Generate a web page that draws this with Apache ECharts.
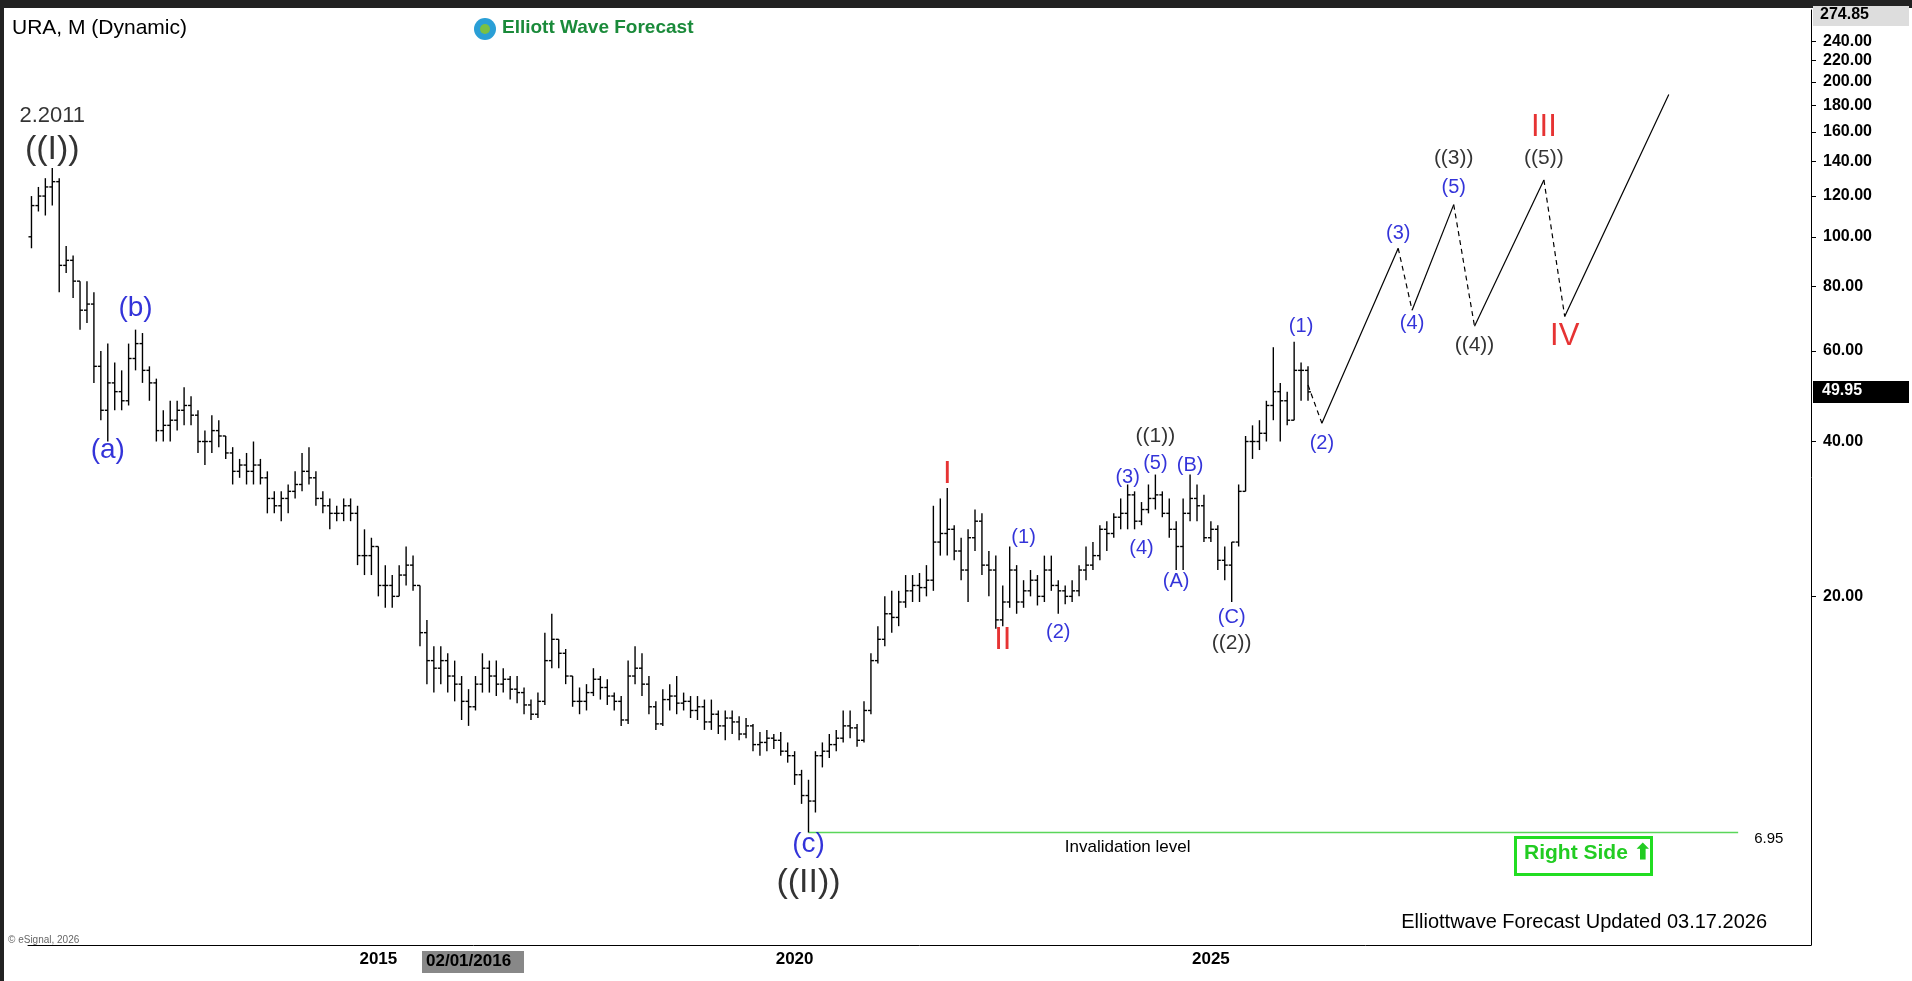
<!DOCTYPE html>
<html><head><meta charset="utf-8">
<script src="https://cdn.jsdelivr.net/npm/echarts@6/dist/echarts.min.js"></script>
<style>html,body{margin:0;padding:0;background:#fff}#c{width:1912px;height:981px}</style>
</head><body><div id="c"></div>
<script>
// ---- DATA ----
const startYear = 2010, startMonth = 11, endYear = 2032, endMonth = 3;
const ticker = 'URA, M (Dynamic)';
const yTicks = [20,40,60,80,100,120,140,160,180,200,220,240];
const topPrice = 274.85, lastPrice = 49.95, invalidation = 6.95;
const xTickLabels = {'2015-01':'2015','2020-01':'2020','2025-01':'2025'};
const highlightLabel = '02/01/2016';
// monthly [open, close, low, high] from 2010-11
const bars2010 = [[100,115,95,120],[115,120,112,125]];
const bars2011 = [[120,125,110,130],[125,128,115,136],[128,88,78,130],[88,90,85,96],[90,82,76,92],[82,72,66,82],[72,74,68,82],[74,56,52,78],[56,46,44,60],[46,52,40,62],[52,50,46,57],[50,48,46,55]];
const bars2012 = [[48,58,47,62],[58,62,55,66],[62,55,52,65],[55,52,48,56],[52,42,40,53],[42,43,40,46],[43,44,40,48],[44,46,42,48],[46,47,43,51],[47,45,43,49],[45,40,38,46],[40,40,36,42]];
const bars2013 = [[40,42,38,45],[42,41,39,44],[41,38,37,41],[38,35,33,39],[35,36,34,37],[36,35,33,38],[35,36,33,40],[36,34,33,37],[34,31,29,35],[31,30,29,32],[30,31,28,32],[31,32,29,33]];
const bars2014 = [[32,33,31,35],[33,35,32,38],[35,34,33,39],[34,31,30,35],[31,30,29,32],[30,29,27,31],[29,29,28,30],[29,30,28,31],[30,29,28,31],[29,24,23,30],[24,24,22,27],[24,25,22,26]];
const bars2015 = [[25,21,20,25],[21,21,19,23],[21,20,19,22],[20,22,20,23],[22,23,21,25],[23,21,20.5,24],[21,17,16,21],[17,15,13.5,18],[15,14.5,13,16],[14.5,15,13.5,16],[15,14,13,15.5],[14,13.5,12.5,15]];
const bars2016 = [[13.5,12.5,11.5,14],[12.5,12.2,11.2,13.2],[12.2,13.5,12,14],[13.5,14.5,13,15.5],[14.5,14,13,15],[14,13.5,12.8,15],[13.5,13.8,13,14.5],[13.8,13.2,12.6,14],[13.2,13,12.4,14],[13,12.3,11.8,13.3],[12.3,11.8,11.5,12.6],[11.8,12.5,11.6,13]];
const bars2017 = [[12.5,15,12.3,17],[15,16.5,14.5,18.5],[16.5,15.5,14.5,16.5],[15.5,14,13.5,15.8],[14,12.5,12.2,14],[12.5,12.5,11.8,13.3],[12.5,13,12,13.5],[13,13.8,12.8,14.5],[13.8,13.3,12.6,14],[13.3,12.8,12.3,13.8],[12.8,12.5,12,13],[12.5,11.5,11.2,12.8]];
const bars2018 = [[11.5,14,11.3,15],[14,14.5,13.5,16],[14.5,13.5,12.8,15.5],[13.5,12.2,11.8,14],[12.2,11.3,11,12.5],[11.3,12.6,11.2,13.2],[12.6,12.8,12,13.5],[12.8,12.4,11.8,14],[12.4,12.5,12,13],[12.5,12,11.6,12.8],[12,12.2,11.5,12.8],[12.2,11.4,11,12.6]];
const bars2019 = [[11.4,11.8,11,12.6],[11.8,11.2,10.8,12],[11.2,11.6,10.5,12],[11.6,11.4,10.8,12],[11.4,10.8,10.5,11.7],[10.8,11.2,10.6,11.6],[11.2,10.3,10,11.3],[10.3,10.4,9.8,10.9],[10.4,10.6,10,11],[10.6,10.5,10.1,10.8],[10.5,10,9.8,10.9],[10,9.8,9.5,10.4]];
const bars2020 = [[9.8,9,8.6,10],[9,8.2,7.9,9.2],[8.2,8,6.95,8.8],[8,9.8,7.6,10],[9.8,10,9.3,10.4],[10,10.3,9.7,10.8],[10.3,10.6,10,11],[10.6,11.2,10.4,12],[11.2,11.1,10.6,12],[11.1,10.5,10.2,11.3],[10.5,12,10.4,12.5],[12,15,11.8,15.5]];
const bars2021 = [[15,16.5,14.8,17.5],[16.5,18.5,16,20],[18.5,18.2,17,20.5],[18.2,19.5,17.5,20.5],[19.5,20.5,19,22],[20.5,21,19.5,22],[21,20.8,19.5,22.2],[20.8,21.5,20,23],[21.5,25.5,20.5,30],[25.5,26.5,24,31],[26.5,27,24,32.5],[27,24.5,23.5,27.5]];
const bars2022 = [[24.5,22.5,21.5,26],[22.5,26,19.5,27],[26,28,24.5,29.5],[28,23,22,29],[23,22.5,20,24.5],[22.5,18,17.3,24],[18,19.5,17.5,21],[19.5,22.5,19,25],[22.5,19.5,18.5,23],[19.5,20.5,19,21.5],[20.5,21.5,20,22.5],[21.5,20,19.2,22]];
const bars2023 = [[20,22.5,19.5,24],[22.5,21,20.5,24],[21,20.5,18.5,21.5],[20.5,20,19.3,21],[20,20.5,19.5,21.5],[20.5,22.5,20,23],[22.5,23,21.5,25],[23,24,22.5,25.5],[24,27,23.5,27.5],[27,26.5,24.5,28],[26.5,28.5,26,29],[28.5,29,27,31]];
const bars2024 = [[29,31.5,27,33],[31.5,28,27,32],[28,29.5,27.5,30.5],[29.5,31,29,33],[31,31.5,29.5,34.5],[31.5,29,28.5,32],[29,27,26,31],[27,25,22.5,28],[25,29,22.5,31],[29,31,28,34.5],[31,30,28,33],[30,26,25.5,31.5]];
const bars2025 = [[26,27,25.5,28],[27,23.5,22.5,27.5],[23.5,23,21.5,25],[23,25.5,19.5,25.5],[25.5,32,25,33],[32,40,32,41],[40,40,37,43],[40,41.5,38.5,44],[41.5,47,40,48],[47,50,44,61],[50,48,40,52],[48,44,43,50]];
const bars2026 = [[44,55,44,62.5],[55,55,48,57],[55,49.95,48,56]];
// projected path
const pathMonths = ['2026-03','2026-05','2027-04','2027-06','2027-12','2028-03','2029-01','2029-04','2030-07'];
const pathPrices = [51.5,43.4,95,72,115.5,67,129,70,189];
const pathTypes  = ['dashed','solid','dashed','solid','dashed','solid','dashed','solid'];
// wave labels
const waveMonths = ['2011-02','2011-02','2012-02','2011-10','2021-11','2022-07','2022-10','2023-03','2024-01','2024-03','2024-05','2024-05','2024-10','2024-08','2025-04','2025-04','2026-02','2026-05','2027-04','2027-06','2027-12','2027-12','2028-03','2029-01','2029-01','2029-04','2020-03','2020-03'];
const wavePrices = [172,148,72.6,38.5,34.5,16.4,26,17,34,24.8,36.3,41,36,21.4,18.2,16.2,67,39.6,101.6,67.7,124.5,142,61.6,142,163,64,6.6,5.55];
const waveTexts  = ['2.2011','((I))','(b)','(a)','I','II','(1)','(2)','(3)','(4)','(5)','((1))','(B)','(A)','(C)','((2))','(1)','(2)','(3)','(4)','(5)','((3))','((4))','((5))','III','IV','(c)','((II))'];
const waveKinds  = ['date','big','blueBig','blueBig','red','red','blue','blue','blue','blue','blue','black','blue','blue','blue','black','blue','blue','blue','blue','blue','black','black','black','red','red','blueBig','big'];
const invalidStart = '2020-03', invalidEnd = '2031-05';

// ---- BUILD ----
const months = [];
for (let y = startYear, m = startMonth; y < endYear || (y === endYear && m <= endMonth); ) {
  months.push(y + '-' + String(m).padStart(2,'0'));
  m++; if (m > 12) { m = 1; y++; }
}
const bars = [].concat(bars2010,bars2011,bars2012,bars2013,bars2014,bars2015,bars2016,bars2017,bars2018,bars2019,bars2020,bars2021,bars2022,bars2023,bars2024,bars2025,bars2026);
const ohlcData = bars.map((b,i)=>[i,b[0],b[1],b[2],b[3]]);

const F = 'Liberation Sans, Arial, sans-serif';
const chart = echarts.init(document.getElementById('c'));
const series = [];
series.push({
  type:'custom', data: ohlcData, encode:{x:0,y:[1,2,3,4]}, z:5,
  renderItem:(params, api)=>{
    const x=api.value(0);
    const pO=api.coord([x,api.value(1)]), pC=api.coord([x,api.value(2)]);
    const pL=api.coord([x,api.value(3)]), pH=api.coord([x,api.value(4)]);
    const w=3, st={stroke:'#000',lineWidth:1.4};
    return {type:'group',children:[
      {type:'line',shape:{x1:pH[0],y1:pH[1],x2:pL[0],y2:pL[1]},style:st},
      {type:'line',shape:{x1:pO[0]-w,y1:pO[1],x2:pO[0],y2:pO[1]},style:st},
      {type:'line',shape:{x1:pC[0],y1:pC[1],x2:pC[0]+w,y2:pC[1]},style:st}
    ]};
  }
});
for (let i=0;i<pathTypes.length;i++){
  series.push({type:'line', symbol:'none', silent:true, z:4,
    data:[[pathMonths[i],pathPrices[i]],[pathMonths[i+1],pathPrices[i+1]]],
    lineStyle:{color:'#000',width:1.2,type:pathTypes[i]==='dashed'?[5,4]:'solid'}});
}
series.push({type:'line', symbol:'none', silent:true, z:3,
  data:[[invalidStart,invalidation],[invalidEnd,invalidation]],
  lineStyle:{color:'#5ad65a',width:1.3},
  markPoint:{symbol:'rect',symbolSize:0,data:[
    {coord:['2024-01',invalidation],label:{show:true,formatter:'Invalidation level',position:'bottom',distance:6,color:'#000',fontSize:17,fontFamily:F}},
    {coord:[invalidEnd,invalidation],label:{show:true,formatter:invalidation.toFixed(2),position:'right',distance:16,offset:[0,6],color:'#000',fontSize:15,fontFamily:F}}
  ]}
});
const kindStyle = {
  date:{color:'#000',fontSize:22},
  big:{color:'#000',fontSize:34},
  blueBig:{color:'#0000d0',fontSize:28},
  red:{color:'#e00000',fontSize:31},
  blue:{color:'#0000d0',fontSize:20},
  black:{color:'#000',fontSize:21}
};
series.push({type:'scatter', symbolSize:0, silent:true, z:6,
  data: waveMonths.map((m,i)=>({value:[m,wavePrices[i]], label:Object.assign({show:true,position:'inside',formatter:waveTexts[i],fontFamily:F},kindStyle[waveKinds[i]])}))
});

const baseGraphic = [
  {id:'topbar',type:'rect',left:0,top:0,shape:{width:1912,height:8},style:{fill:'#222'}},
  {id:'leftbar',type:'rect',left:0,top:0,shape:{width:4,height:981},style:{fill:'#222'}},
  {id:'ticker',type:'text',left:12,top:18,style:{text:ticker,font:'21px '+F,fill:'#000'}},
  {id:'logo1',type:'circle',shape:{cx:485,cy:29,r:11},style:{fill:'#2a9fd6'}},
  {id:'logo2',type:'circle',shape:{cx:485,cy:29,r:5},style:{fill:'#7bc043'}},
  {id:'logotext',type:'text',left:502,top:18,style:{text:'Elliott Wave Forecast',font:'bold 19px '+F,fill:'#1a8a3a'}},
  {id:'updated',type:'text',right:145,top:912,style:{text:'Elliottwave Forecast Updated 03.17.2026',font:'20px '+F,fill:'#000'}},
  {id:'rsbox',type:'rect',left:1514,top:836,shape:{width:136,height:37},style:{fill:'#fff',stroke:'#22dd22',lineWidth:3}},
  {id:'rstext',type:'text',left:1524,top:843,style:{text:'Right Side ⬆',font:'bold 21px '+F,fill:'#22cc22'}},
  {id:'esig',type:'text',left:8,top:935,style:{text:'© eSignal, 2026',font:'10px '+F,fill:'#666'}},
  {id:'hlbox',type:'rect',left:422,top:951,shape:{width:102,height:22},style:{fill:'#888'}},
  {id:'hltext',type:'text',left:426,top:953,style:{text:highlightLabel,font:'bold 17px '+F,fill:'#000'}},
  {id:'topbox',type:'rect',left:1813,top:6,shape:{width:96,height:20},style:{fill:'#ddd'}},
  {id:'toptext',type:'text',left:1820,top:7,style:{text:topPrice.toFixed(2),font:'bold 16px '+F,fill:'#000'}}
];
chart.setOption({
  animation:false,
  backgroundColor:'#fff',
  grid:{left:28,right:101,top:10,bottom:36,show:false},
  xAxis:{type:'category',data:months,boundaryGap:true,
    axisLine:{show:true,lineStyle:{color:'#000'}},axisTick:{show:false},splitLine:{show:false},
    axisLabel:{interval:0,margin:6,fontFamily:F,fontSize:17,fontWeight:'bold',color:'#000',
      formatter:(v)=>xTickLabels[v]||''}},
  yAxis:{type:'log',logBase:10,min:4.2,max:276,position:'right',
    axisLine:{show:true,lineStyle:{color:'#000'}},
    splitLine:{show:false},
    axisTick:{show:true,length:5,lineStyle:{color:'#000'},customValues:yTicks},
    axisLabel:{customValues:yTicks,margin:12,fontFamily:F,fontSize:16,fontWeight:'bold',color:'#000',formatter:v=>Number(v).toFixed(2)}},
  series:series,
  graphic:baseGraphic
});
const py = chart.convertToPixel({yAxisIndex:0}, lastPrice);
chart.setOption({graphic:[
  {id:'lastbox',type:'rect',left:1813,top:py-11,shape:{width:96,height:22},style:{fill:'#000'}},
  {id:'lasttext',type:'text',left:1822,top:py-9,style:{text:lastPrice.toFixed(2),font:'bold 16px '+F,fill:'#fff'}}
]});
</script></body></html>
